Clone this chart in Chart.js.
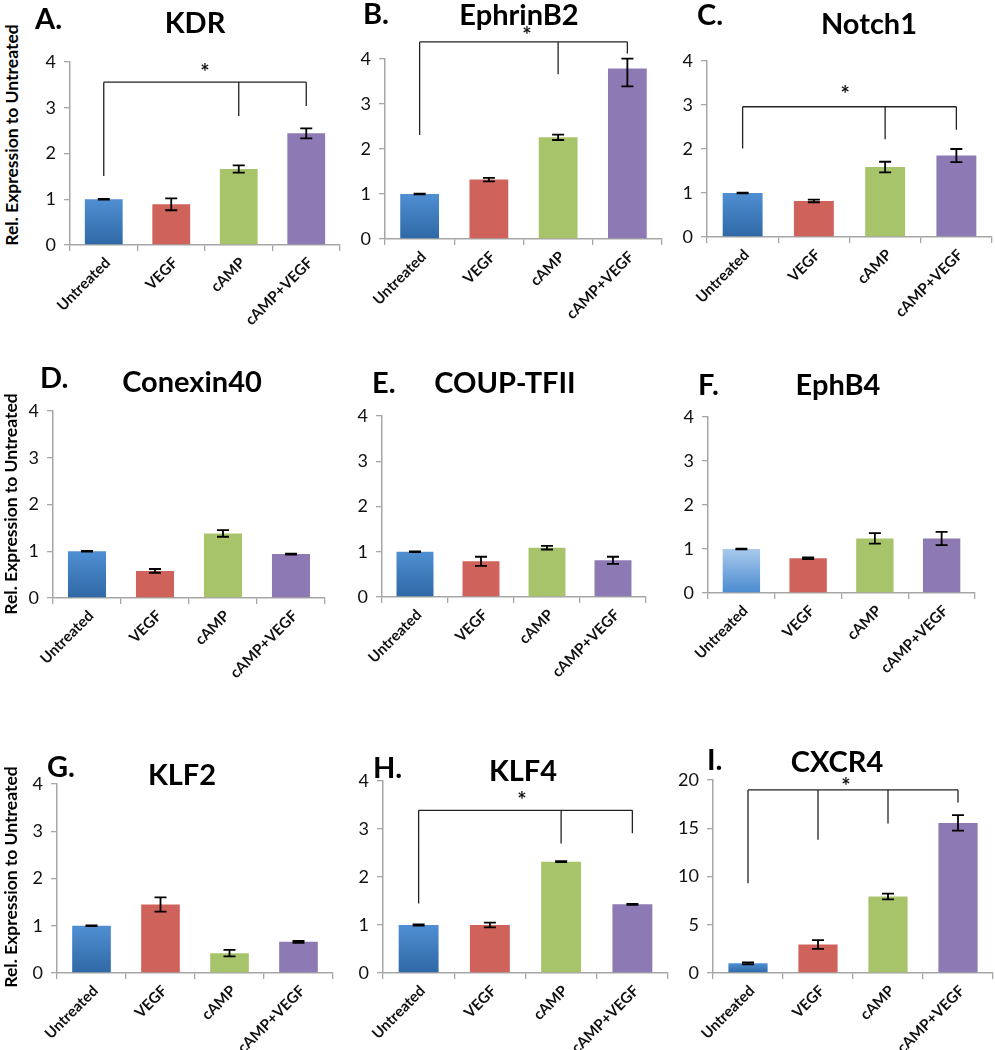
<!DOCTYPE html>
<html>
<head>
<meta charset="utf-8">
<script src="https://cdn.jsdelivr.net/npm/chart.js@4.4.0/dist/chart.umd.min.js"></script>
<style>
body { margin:0; background:#fff; width:995px; height:1050px; position:relative; overflow:hidden; font-family: Lato, sans-serif; }
canvas { position:absolute; }
.letter, .gene { position:absolute; font-weight:bold; font-size:29px; line-height:1; color:#000; white-space:nowrap; z-index:2; }
.letter { transform: translateY(-50%); }
.gene { transform: translate(-50%, -50%); }
.ytitle { position:absolute; font-weight:bold; font-size:17.5px; line-height:1; color:#000; white-space:nowrap; transform: translate(-50%, -50%) rotate(-90deg); z-index:2; }
</style>
</head>
<body>
<script>
// x categories shared by every panel
const categories = ['Untreated', 'VEGF', 'cAMP', 'cAMP+VEGF'];
const panelLetters = ['A.', 'B.', 'C.', 'D.', 'E.', 'F.', 'G.', 'H.', 'I.'];
const geneNames = ['KDR', 'EphrinB2', 'Notch1', 'Conexin40', 'COUP-TFII', 'EphB4', 'KLF2', 'KLF4', 'CXCR4'];
const yTitle = 'Rel. Expression to Untreated';

// relative expression (mean) and error (number = +/-, pair = [down, up])
const kdrMean = [1.0, 0.89, 1.66, 2.44];
const kdrErr = [0.01, 0.13, 0.08, 0.11];
const ephrinB2Mean = [1.0, 1.32, 2.26, 3.79];
const ephrinB2Err = [0.01, 0.04, 0.06, [0.40, 0.22]];
const notch1Mean = [1.0, 0.82, 1.59, 1.85];
const notch1Err = [0.01, 0.03, 0.12, 0.15];
const conexin40Mean = [1.0, 0.58, 1.38, 0.94];
const conexin40Err = [0.01, 0.04, 0.07, 0.01];
const coupTFIIMean = [1.0, 0.79, 1.09, 0.81];
const coupTFIIErr = [0.01, 0.10, 0.04, 0.08];
const ephB4Mean = [1.0, 0.79, 1.24, 1.24];
const ephB4Err = [0.01, 0.02, 0.12, 0.15];
const klf2Mean = [1.0, 1.45, 0.42, 0.66];
const klf2Err = [0.01, 0.15, 0.07, 0.02];
const klf4Mean = [1.0, 1.0, 2.32, 1.43];
const klf4Err = [0.01, 0.05, 0.01, 0.01];
const cxcr4Mean = [1.0, 2.95, 7.93, 15.55];
const cxcr4Err = [0.1, 0.45, 0.3, 0.8];

// y axis max / step per panel
const yMax = [4, 4, 4, 4, 4, 4, 4, 4, 20];
const yStep = [1, 1, 1, 1, 1, 1, 1, 1, 5];

// significance brackets: bar level, legs [category, bottom value], star [category, value]
const kdrSig = { level: 3.56, legs: [[0, 1.51], [2, 2.82], [3, 3.04]], star: [1.5, 3.87] };
const ephrinB2Sig = { level: 4.38, legs: [[0, 2.31], [2, 3.66], [3, 4.12]], star: [1.55, 4.62] };
const notch1Sig = { level: 2.96, legs: [[0, 2.01], [2, 2.22], [3, 2.44]], star: [1.44, 3.35] };
const klf4Sig = { level: 3.39, legs: [[0, 1.45], [2, 2.70], [3, 2.91]], star: [1.45, 3.68] };
const cxcr4Sig = { level: 18.97, legs: [[0, 9.3], [1, 13.8], [2, 15.5], [3, 17.66]], star: [1.4, 19.8] };

const means = [kdrMean, ephrinB2Mean, notch1Mean, conexin40Mean, coupTFIIMean, ephB4Mean, klf2Mean, klf4Mean, cxcr4Mean];
const errs = [kdrErr, ephrinB2Err, notch1Err, conexin40Err, coupTFIIErr, ephB4Err, klf2Err, klf4Err, cxcr4Err];
const sigs = [kdrSig, ephrinB2Sig, notch1Sig, null, null, null, null, klf4Sig, cxcr4Sig];

// layout: plot area [left, top, right, bottom] in page pixels
const plotBoxes = [
    [70, 62, 340, 245], [385, 59, 662, 239], [707, 61, 992, 237],
    [53, 411, 325, 598], [382, 416, 646, 597], [708, 417, 975, 593],
    [57, 784, 333, 973], [383, 781, 668, 973], [713, 780, 993, 973]
];
// letter [left, centerY], title [centerX, centerY]
const letterPos = [[35, 17], [363, 12], [697, 13], [40, 376], [372, 381], [698, 383], [47, 765], [373, 766], [707, 758]];
const genePos = [[195, 21], [519, 13], [869, 22], [192, 380], [505, 381], [838, 383], [182, 773], [523, 769], [837, 760]];
const yTitlePos = [[12, 135], [11, 504], [11, 877]];

const barColors = ['#3f80c4', '#cf625a', '#a7c46a', '#8d79b3'];

Chart.defaults.font.family = 'Lato, sans-serif';
Chart.defaults.color = '#111';

const PAD_TOP = 50, Y_W = 45, X_H = 80, PAD_R = 5;

function addText(cls, text, x, y) {
    const d = document.createElement('div');
    d.className = cls;
    d.textContent = text;
    d.style.left = x + 'px';
    d.style.top = y + 'px';
    document.body.appendChild(d);
}

function markPlugin(idx) {
    return {
        id: 'marks' + idx,
        afterDatasetsDraw(chart) {
            const ctx = chart.ctx;
            const ys = chart.scales.y, xs = chart.scales.x;
            const meta = chart.getDatasetMeta(0);
            ctx.save();
            ctx.strokeStyle = '#000';
            ctx.lineWidth = 1.8;
            // error bars
            means[idx].forEach((m, i) => {
                const e = errs[idx][i];
                const down = Array.isArray(e) ? e[0] : e;
                const up = Array.isArray(e) ? e[1] : e;
                const x = meta.data[i].x;
                const y1 = ys.getPixelForValue(m + up);
                const y2 = ys.getPixelForValue(m - down);
                ctx.beginPath();
                ctx.moveTo(x, y1); ctx.lineTo(x, y2);
                ctx.moveTo(x - 6, y1); ctx.lineTo(x + 6, y1);
                ctx.moveTo(x - 6, y2); ctx.lineTo(x + 6, y2);
                ctx.stroke();
            });
            // significance bracket
            const s = sigs[idx];
            if (s) {
                ctx.lineWidth = 1.3;
                ctx.strokeStyle = '#222';
                const yl = ys.getPixelForValue(s.level);
                const xa = xs.getPixelForValue(s.legs[0][0]);
                const xb = xs.getPixelForValue(s.legs[s.legs.length - 1][0]);
                ctx.beginPath();
                ctx.moveTo(xa, yl); ctx.lineTo(xb, yl);
                s.legs.forEach(([c, v]) => {
                    const x = xs.getPixelForValue(c);
                    ctx.moveTo(x, yl); ctx.lineTo(x, ys.getPixelForValue(v));
                });
                ctx.stroke();
                ctx.fillStyle = '#111';
                ctx.font = 'bold 22px Lato, sans-serif';
                ctx.textAlign = 'center';
                ctx.textBaseline = 'middle';
                ctx.fillText('*', xs.getPixelForValue(s.star[0]), ys.getPixelForValue(s.star[1]) + 5);
            }
            ctx.restore();
        }
    };
}

// first bar has a vertical gradient, the others are flat
function barFill(idx) {
    const light = idx === 5;
    return (c) => {
        if (c.dataIndex !== 0) return barColors[c.dataIndex];
        const chart = c.chart;
        const area = chart.chartArea;
        if (!area || !chart.scales || !chart.scales.y) return barColors[0];
        const top = chart.scales.y.getPixelForValue(means[idx][0]);
        if (!isFinite(top)) return barColors[0];
        const g = chart.ctx.createLinearGradient(0, area.bottom, 0, top);
        if (light) { g.addColorStop(0, '#4a8bd0'); g.addColorStop(1, '#a9c9ec'); }
        else { g.addColorStop(0, '#2f68a5'); g.addColorStop(1, '#4f8fd2'); }
        return g;
    };
}

plotBoxes.forEach((b, idx) => {
    const [l, t, r, btm] = b;
    const cv = document.createElement('canvas');
    const w = r - l + Y_W + PAD_R, h = btm - t + PAD_TOP + X_H;
    cv.width = w; cv.height = h;
    cv.style.left = (l - Y_W) + 'px';
    cv.style.top = (t - PAD_TOP) + 'px';
    cv.style.width = w + 'px';
    cv.style.height = h + 'px';
    document.body.appendChild(cv);

    const chart = new Chart(cv.getContext('2d'), {
        type: 'bar',
        data: {
            labels: categories,
            datasets: [{
                data: means[idx],
                backgroundColor: barFill(idx),
                borderWidth: 0,
                barPercentage: 0.56,
                categoryPercentage: 1.0
            }]
        },
        options: {
            responsive: false,
            animation: false,
            events: [],
            layout: { padding: { top: PAD_TOP, right: PAD_R, left: 0, bottom: 0 } },
            plugins: { legend: { display: false }, tooltip: { enabled: false } },
            scales: {
                x: {
                    afterFit: (s) => { s.height = X_H; },
                    grid: { drawOnChartArea: false, tickLength: 6, color: '#a6a6a6', lineWidth: 1.3, offset: true },
                    border: { color: '#a6a6a6', width: 1.5 },
                    ticks: {
                        autoSkip: false, maxRotation: 45, minRotation: 45, padding: 3, labelOffset: 4,
                        color: '#111', font: { size: 15, weight: 'bold' }
                    }
                },
                y: {
                    min: 0, max: yMax[idx],
                    afterFit: (s) => { s.width = Y_W; },
                    grid: { drawOnChartArea: false, tickLength: 6, color: '#a6a6a6', lineWidth: 1.3 },
                    border: { color: '#a6a6a6', width: 1.5 },
                    ticks: { stepSize: yStep[idx], padding: 8, color: '#111', font: { size: 18 } }
                }
            }
        },
        plugins: [markPlugin(idx)]
    });
    // second pass so the gradient sees the final scales
    chart.update();

    addText('letter', panelLetters[idx], letterPos[idx][0], letterPos[idx][1]);
    addText('gene', geneNames[idx], genePos[idx][0], genePos[idx][1]);
});

yTitlePos.forEach(([x, y]) => addText('ytitle', yTitle, x, y));
</script>
</body>
</html>
